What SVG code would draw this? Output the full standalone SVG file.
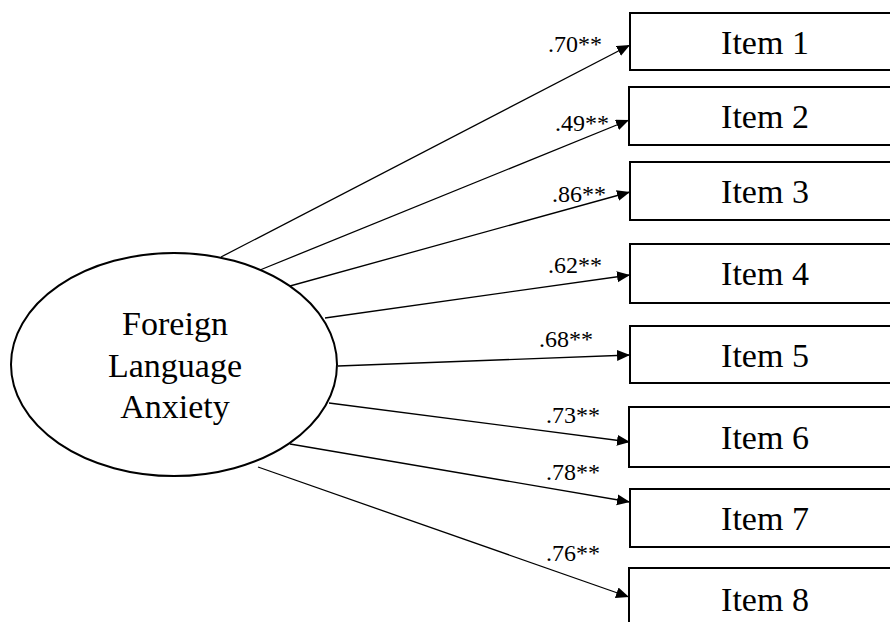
<svg xmlns="http://www.w3.org/2000/svg" width="890" height="622" viewBox="0 0 890 622">
<defs>
<marker id="arr" markerUnits="userSpaceOnUse" markerWidth="14" markerHeight="12" refX="13" refY="5.5" orient="auto">
<path d="M0,0 L13,5.5 L0,11 z" fill="#000"/>
</marker>
<style>
.box{fill:#fff;stroke:#000;stroke-width:2}
.lbl{font-family:"Liberation Serif","Times New Roman",serif;font-size:34px;fill:#000;text-anchor:middle}
.w{font-family:"Liberation Serif","Times New Roman",serif;font-size:24px;fill:#000}
.c{stroke:#000;stroke-width:1.3;fill:none;marker-end:url(#arr)}
</style>
</defs>
<rect width="890" height="622" fill="#fff"/>
<g id="connectors">
<line class="c" x1="221" y1="257" x2="630" y2="45"/>
<line class="c" x1="260" y1="270" x2="629" y2="120"/>
<line class="c" x1="290" y1="286" x2="630" y2="192"/>
<line class="c" x1="325" y1="318" x2="630" y2="275"/>
<line class="c" x1="338" y1="366" x2="630" y2="355"/>
<line class="c" x1="329" y1="403" x2="630" y2="442"/>
<line class="c" x1="290" y1="444" x2="630" y2="502"/>
<line class="c" x1="258" y1="467" x2="629" y2="597"/>
<text class="w" x="548" y="52">.70**</text>
<text class="w" x="555" y="131">.49**</text>
<text class="w" x="552" y="202">.86**</text>
<text class="w" x="548" y="273">.62**</text>
<text class="w" x="539" y="347">.68**</text>
<text class="w" x="546" y="423">.73**</text>
<text class="w" x="546" y="480">.78**</text>
<text class="w" x="546" y="561">.76**</text>
</g>
<g id="fla">
<ellipse cx="174" cy="364.5" rx="163" ry="111.5" fill="#fff" stroke="#000" stroke-width="2"/>
<text class="lbl" x="175" y="335">Foreign</text>
<text class="lbl" x="175" y="377">Language</text>
<text class="lbl" x="175" y="418">Anxiety</text>
</g>
<g id="item1"><rect class="box" x="630" y="13" width="270" height="57"/><text class="lbl" x="765" y="54">Item 1</text></g>
<g id="item2"><rect class="box" x="629" y="87" width="270" height="58"/><text class="lbl" x="765" y="128">Item 2</text></g>
<g id="item3"><rect class="box" x="630" y="162" width="270" height="58"/><text class="lbl" x="765" y="203">Item 3</text></g>
<g id="item4"><rect class="box" x="630" y="244" width="270" height="59"/><text class="lbl" x="765" y="285">Item 4</text></g>
<g id="item5"><rect class="box" x="630" y="326" width="270" height="57"/><text class="lbl" x="765" y="367">Item 5</text></g>
<g id="item6"><rect class="box" x="629" y="407" width="270" height="60"/><text class="lbl" x="765" y="449">Item 6</text></g>
<g id="item7"><rect class="box" x="630" y="489" width="270" height="58"/><text class="lbl" x="765" y="530">Item 7</text></g>
<g id="item8"><rect class="box" x="629" y="568" width="270" height="60"/><text class="lbl" x="765" y="611">Item 8</text></g>
</svg>
